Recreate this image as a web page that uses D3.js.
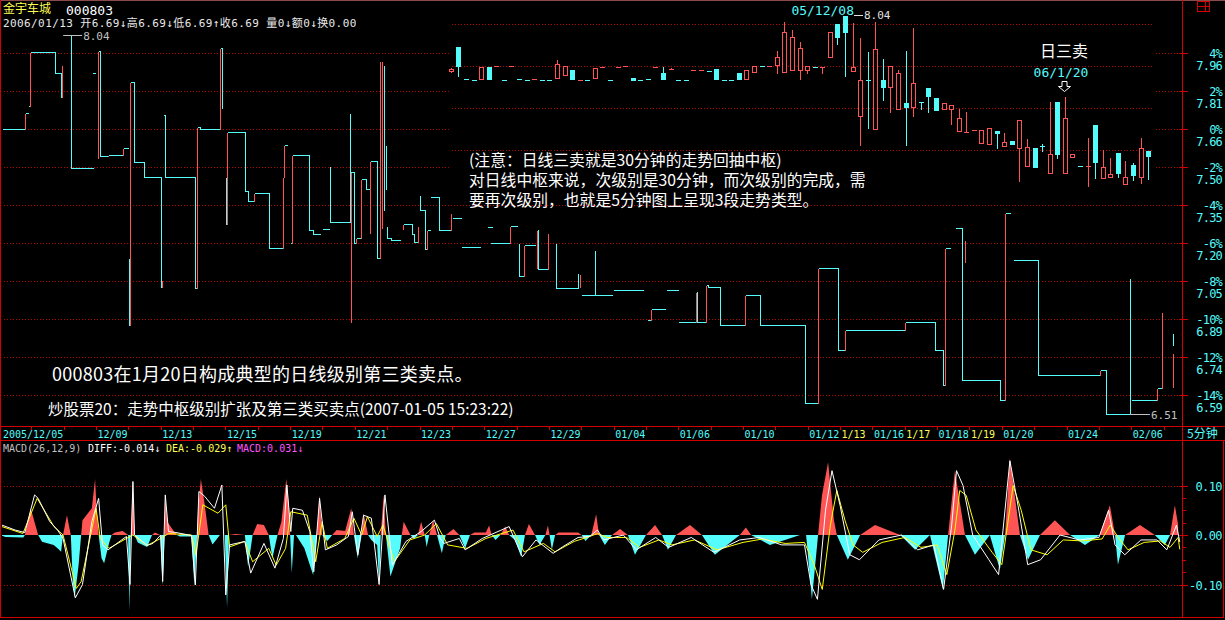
<!DOCTYPE html>
<html><head><meta charset="utf-8">
<script src="https://cdn.jsdelivr.net/npm/d3@7/dist/d3.min.js"></script>
<style>
html,body{margin:0;padding:0;background:#000;overflow:hidden}
svg{display:block}
</style></head><body>
<svg id="chart" width="1225" height="620"></svg>
<script>
// ================= DATA =================
const stockName = "金宇车城";
const stockCode = "000803";
const quoteLine = "2006/01/13 开6.69↓高6.69↓低6.69↑收6.69 量0↓额0↓换0.00";
const basePrice = 7.66;
const pctTicks = [4, 2, 0, -2, -4, -6, -8, -10, -12, -14];
const pctTickLabels = ["4%", "2%", "0%", "-2%", "-4%", "-6%", "-8%", "-10%", "-12%", "-14%"];
const priceTickLabels = ["7.96", "7.81", "7.66", "7.50", "7.35", "7.20", "7.05", "6.89", "6.74", "6.59"];
const dateLabels = ["2005/12/05","12/09","12/13","12/15","12/19","12/21","12/23","12/27","12/29","01/04","01/06","01/10","01/12","1/13","01/16","1/17","01/18","1/19","01/20","01/24","02/06"];
const dateDays   = [0,3,5,7,9,11,13,15,17,19,21,23,25,26,27,28,29,30,31,33,35];
const dateYellow = ["1/13","1/17","1/19"];
const dayCount = 36;

// 5-minute price path (day, price); null = gap
const m5Path = [
 [0.09,7.660],[0.80,7.660],[0.80,7.725],[0.90,7.725], null,
 [0.90,7.753],[0.96,7.753],[0.96,7.970],[1.73,7.970],[1.73,7.886],[1.92,7.886],[1.92,7.789],[1.95,7.789],[1.95,7.918], null,
 [2.23,8.043],[2.23,7.503],[2.91,7.503], null,
 [2.87,7.886],[2.97,7.886], null,
 [3.06,7.543],[3.06,7.975],[3.12,7.975],[3.12,7.551],[3.37,7.551],[3.37,7.555],[3.83,7.555],[3.83,7.583],[3.99,7.583], null,
 [4.02,7.140],[4.02,6.870],[4.05,6.870],[4.05,7.850],[4.17,7.850],[4.17,7.527],[4.48,7.527],[4.48,7.466],[5.01,7.466],[5.01,7.023],[5.04,7.023],[5.04,7.051], null,
 [5.07,7.716],[5.13,7.716],[5.13,7.466],[6.06,7.466],[6.06,7.019],[6.12,7.019],[6.12,7.668],[6.21,7.668],[6.21,7.660],[6.83,7.660],[6.83,7.987],[6.89,7.987],[6.89,7.745], null,
 [7.02,7.466],[7.02,7.277],[7.05,7.277],[7.05,7.648],[7.60,7.648],[7.60,7.410],[7.70,7.410],[7.70,7.370],[7.88,7.370],[7.88,7.402],[8.35,7.402],[8.35,7.180],[8.78,7.180],[8.78,7.466],[8.81,7.466],[8.81,7.595],[8.90,7.595], null,
 [8.99,7.200],[9.06,7.200],[9.06,7.555],[9.58,7.555],[9.58,7.253],[9.71,7.253],[9.71,7.237],[9.92,7.237], null,
 [9.98,7.257],[10.20,7.257], null,
 [10.23,7.511],[10.23,7.285],[10.85,7.285], null,
 [10.85,7.487],[10.97,7.487],[10.97,7.200],[11.04,7.200],[11.04,7.220],[11.19,7.220],[11.19,7.458],[11.34,7.458],[11.34,7.418],[11.44,7.418], null,
 [11.47,7.241],[11.47,7.531],[11.68,7.531],[11.68,7.140],[11.78,7.140],[11.78,7.934], null,
 [11.99,7.269],[11.99,7.220],[12.12,7.220],[12.12,7.212],[12.40,7.212], null,
 [12.49,7.257],[12.49,7.277],[12.77,7.277],[12.77,7.237],[12.83,7.237],[12.83,7.204],[12.95,7.204],[12.95,7.269], null,
 [13.01,7.394],[13.01,7.333],[13.17,7.333],[13.17,7.176],[13.23,7.176],[13.23,7.253],[13.32,7.253], null,
 [13.32,7.386],[13.60,7.386],[13.60,7.253],[13.97,7.253],[13.97,7.321], null,
 [14.00,7.301],[14.28,7.301], null,
 [14.28,7.184],[14.87,7.184], null,
 [15.09,7.265],[15.24,7.265], null,
 [15.18,7.200],[15.80,7.200],[15.80,7.269],[16.01,7.269], null,
 [16.07,7.200],[16.07,7.067],[16.23,7.067],[16.23,7.192],[16.57,7.192], null,
 [16.63,7.100],[16.63,7.253],[16.66,7.253],[16.66,7.095],[16.97,7.095],[16.97,7.241], null,
 [17.22,7.200],[17.22,7.019],[17.90,7.019], null,
 [17.99,6.991],[18.95,6.991], null,
 [18.98,7.011],[19.91,7.011], null,
 [20.03,6.890],[20.15,6.890],[20.15,6.934],[20.59,6.934], null,
 [20.62,7.011],[20.99,7.011], null,
 [20.99,6.882],[21.55,6.882],[21.55,7.003],[21.58,7.003],[21.58,6.882],[21.85,6.882],[21.85,7.031],[21.92,7.031],[21.92,7.023],[22.29,7.023],[22.29,6.870],
 [23.06,6.870],[23.06,6.991],[23.52,6.991],[23.52,6.870],[24.92,6.870],[24.92,6.555],[25.32,6.555],[25.32,7.100],[25.94,7.100],[25.94,6.769],[26.15,6.769],[26.15,6.850],[28.01,6.850],[28.01,6.882],[28.93,6.882],[28.93,6.769],[29.18,6.769],[29.18,6.628],[29.24,6.628],[29.24,7.180],[29.40,7.180], null,
 [29.55,7.261],[29.77,7.261],[29.77,6.648],[30.94,6.648],[30.94,6.567],[31.10,6.567],[31.10,7.321],[31.25,7.321], null,
 [31.34,7.132],[32.12,7.132],[32.12,6.668],[34.03,6.668],[34.03,6.688],[34.22,6.688],[34.22,6.511],[34.93,6.511], null,
 [34.99,6.567],[35.80,6.567],[35.80,6.616],[35.95,6.616],[35.95,6.922], null
];
// single 5-minute bars with a wide range: [day, high, low, up(1)/down(0)]
const m5Spikes = [
 [10.85,7.725,7.285,0],[10.87,7.487,6.882,1],[11.84,7.934,7.261,1],[11.90,7.918,7.333,0],[11.96,7.595,7.418,0],
 [17.90,7.079,7.019,0],[17.96,7.075,7.023,1],[18.42,7.172,6.991,0],[29.86,7.212,7.124,1],[34.96,7.059,6.511,0],[36.29,6.757,6.620,1],[36.30,6.837,6.789,0]
];
const m5High = [2.23, 8.04];
const m5Low  = [34.96, 6.51];

// inset daily candles (Dec 2005 - Jan 2006)
const dOpen  = [7.778,7.892,7.740,7.735,7.740,7.797,7.799,7.735,7.799,7.740, 7.735,7.737,7.735,7.735,7.745,7.759,7.783,7.732,7.735,7.745, 7.794,7.735,7.794,7.799,7.745,7.735,7.740,7.794,7.769,7.785, 7.735,7.735,7.780,7.780,7.778,7.788,7.735,7.735,7.769,7.740, 7.773,7.802,7.799,7.807,7.773,7.783,7.783,7.783,7.797,7.794, 7.845,8.002,8.040,7.778,7.564,7.735,7.502,7.735,7.702,7.597, 7.626,7.607,7.630,7.697,7.650,7.597,7.597,7.492,7.485,7.494, 7.435,7.430,7.492,7.421,7.445,7.411,7.326,7.411,7.421,7.292, 7.630,7.292,7.369,7.326,7.323,7.521,7.269,7.273,7.388,7.240, 7.330,7.273,7.397];
const dClose = [7.788,7.802,7.740,7.735,7.797,7.740,7.802,7.735,7.802,7.740, 7.735,7.740,7.735,7.735,7.811,7.802,7.740,7.735,7.735,7.792, 7.797,7.735,7.797,7.802,7.735,7.735,7.740,7.797,7.740,7.788, 7.735,7.735,7.783,7.783,7.778,7.740,7.735,7.735,7.740,7.783, 7.802,7.802,7.802,7.845,7.964,7.940,7.888,7.802,7.797,7.797, 7.964,7.940,7.964,7.797,7.735,7.731,7.883,7.702,7.802,7.769, 7.607,7.721,7.630,7.659,7.592,7.626,7.616,7.554,7.488,7.497, 7.497,7.507,7.483,7.440,7.430,7.545,7.416,7.321,7.421,7.383, 7.383,7.554,7.383,7.326,7.326,7.345,7.321,7.288,7.292,7.273, 7.283,7.411,7.373];
const dHigh  = [7.792,7.892,7.740,7.735,7.797,7.797,7.802,7.735,7.802,7.740, 7.735,7.740,7.735,7.735,7.831,7.802,7.783,7.735,7.735,7.792, 7.797,7.735,7.797,7.802,7.745,7.735,7.740,7.797,7.797,7.792, 7.735,7.735,7.783,7.783,7.778,7.788,7.735,7.735,7.769,7.783, 7.802,7.802,7.802,7.873,8.011,7.973,7.916,7.802,7.797,7.797, 7.964,8.002,8.040,8.007,7.935,7.869,8.011,7.835,7.802,7.783, 7.873,7.983,7.630,7.697,7.650,7.626,7.616,7.597,7.583,7.497, 7.497,7.507,7.492,7.483,7.445,7.545,7.454,7.411,7.430,7.630, 7.630,7.654,7.383,7.326,7.459,7.521,7.402,7.364,7.388,7.350, 7.340,7.459,7.397];
const dLow   = [7.773,7.754,7.740,7.735,7.740,7.740,7.799,7.735,7.799,7.740, 7.735,7.737,7.735,7.735,7.745,7.759,7.740,7.732,7.735,7.745, 7.794,7.735,7.794,7.799,7.735,7.735,7.740,7.794,7.740,7.783, 7.735,7.735,7.780,7.780,7.778,7.740,7.735,7.735,7.740,7.740, 7.773,7.802,7.799,7.769,7.773,7.783,7.740,7.769,7.797,7.769, 7.845,7.907,7.754,7.778,7.426,7.507,7.502,7.640,7.583,7.597, 7.426,7.564,7.597,7.583,7.592,7.597,7.526,7.492,7.485,7.494, 7.435,7.430,7.411,7.421,7.430,7.254,7.326,7.321,7.397,7.292, 7.364,7.292,7.369,7.326,7.230,7.269,7.269,7.273,7.273,7.240, 7.259,7.245,7.264];
const dailyGrid = [8.00, 7.80, 7.60, 7.40];
const dailyHighIdx = 52, dailyHighDate = "05/12/08", dailyHighLabel = "8.04";
const sellIdx = 81, sellDate = "06/1/20", sellTitle = "日三卖";

// MACD(26,12,9)
const macdHist = [
 [0.03,0],[0.2,-0.004],[0.75,-0.005],[0.80,0],[0.98,0.054],[1.21,0],[1.33,-0.0135],[1.69,-0.02],[1.81,-0.027],[1.92,-0.034],
 [1.98,0],[2.10,0.040],[2.22,0],[2.28,-0.094],[2.34,-0.127],[2.46,-0.061],[2.54,0],[2.58,0.03],[2.87,0.054],[2.97,0.113],
 [3.01,0.061],[3.08,0],[3.17,-0.047],[3.25,-0.057],[3.40,-0.017],[3.48,0],[3.58,0.005],[3.82,0.008],[3.99,0],[4.03,-0.153],
 [4.07,0],[4.14,0.109],[4.19,0],[4.29,-0.015],[4.58,-0.024],[4.73,0],[4.82,0.005],[4.98,0],[5.06,-0.103],[5.12,0],
 [5.14,0.082],[5.20,0.027],[5.41,0.007],[5.50,0],[5.59,-0.003],[5.95,-0.003],[6.04,-0.104],[6.12,0],[6.16,0.054],[6.24,0.113],
 [6.36,0.061],[6.48,0],[6.60,-0.019],[6.83,0],[6.98,0],[7.05,-0.147],[7.11,0],[7.31,0.002],[7.60,0],[7.70,-0.064],
 [7.84,0],[7.98,0.022],[8.19,0.02],[8.34,0],[8.45,-0.047],[8.61,0],[8.73,0.027],[8.88,0.113],[8.96,0.061],[9.00,0],
 [9.05,-0.077],[9.12,0],[9.18,0],[9.44,-0.027],[9.71,-0.081],[9.83,0],[9.91,0.081],[9.99,0],[10.15,-0.012],[10.30,0],
 [10.44,0.010],[10.70,0.008],[10.89,0.054],[10.97,0],[11.09,-0.047],[11.21,0],[11.27,0.044],[11.41,0],[11.51,-0.01],[11.69,-0.02],
 [11.75,-0.101],[11.80,0],[11.89,0.081],[11.96,0],[12.10,-0.084],[12.40,-0.027],[12.45,0],[12.51,0.027],[12.72,0],[12.83,-0.008],
 [12.95,0],[13.05,0.027],[13.16,0],[13.22,-0.024],[13.30,0],[13.42,0.03],[13.54,0],[13.69,-0.037],[13.81,0],[14.05,0.012],
 [14.23,0],[14.41,-0.027],[14.56,0],[14.70,0.005],[15.05,0.005],[15.15,0.019],[15.23,0],[15.35,-0.01],[15.50,0],[15.65,0.017],
 [15.77,0],[15.95,-0.01],[16.14,-0.044],[16.26,0],[16.38,0.022],[16.57,0],[16.71,-0.02],[16.89,0],[16.97,0.019],[17.02,0],
 [17.09,-0.03],[17.19,0],[17.30,0.005],[17.90,0.005],[18.01,0],[18.13,-0.012],[18.31,0],[18.46,0.042],[18.55,0],
 [18.73,-0.02],[18.95,0],[19.2,0.012],[19.44,0],[19.66,-0.04],[20.0,0],[20.28,0.02],[20.5,0],[20.68,-0.03],[20.93,0],
 [21.36,0.02],[21.73,0],[22.13,-0.04],[22.9,0],[23.09,0.015],[23.25,0],[23.83,-0.02],[24.76,0],[24.95,0],[25.13,-0.13],
 [25.32,0],[25.44,0.08],[25.63,0.147],[25.81,0.03],[25.90,0],[26.24,-0.05],[26.62,0],[27.08,0.02],[27.86,0],[28.32,-0.03],
 [28.78,0],[29.18,-0.11],[29.34,0],[29.55,0.13],[29.86,0],[30.17,-0.04],[30.63,0],[30.94,-0.07],[31.10,0],[31.25,0.155],
 [31.56,0],[31.81,-0.05],[32.18,0],[32.64,0.03],[33.11,0],[33.57,-0.02],[34.03,0],[34.34,0.06],[34.5,0],[34.59,-0.06],
 [34.81,0],[35.27,0.02],[35.73,0],[36.04,-0.02],[36.2,0],[36.35,0.06],[36.45,0.02]
];
const macdDiff = [
 [0.09,0.020],[0.50,0.010],[0.80,0.005],[1.10,0.081],[1.21,0.074],[1.57,0.027],[1.81,0.01],[1.98,-0.007],[2.36,-0.127],[2.58,-0.10],
 [2.87,0.027],[3.08,0.074],[3.20,-0.02],[3.37,-0.03],[3.94,-0.003],[4.05,-0.10],[4.14,0.108],[4.19,0],[4.58,-0.021],[4.76,-0.017],
 [5.0,0],[5.06,-0.094],[5.14,0.081],[5.24,0.007],[5.47,0.005],[5.95,-0.001],[6.07,-0.101],[6.18,0.088],[6.36,0.078],[6.66,0.054],
 [6.89,0.101],[7.01,-0.121],[7.13,-0.02],[7.6,-0.013],[7.78,-0.077],[8.19,-0.017],[8.53,-0.067],[8.79,-0.007],[8.90,0.101],[9.02,0.007],
 [9.08,0.054],[9.38,0.05],[9.61,0.007],[9.73,-0.074],[9.91,0.074],[10.09,-0.03],[10.44,-0.02],[10.80,-0.003],[10.92,0.047],[11.09,-0.04],
 [11.27,0.04],[11.51,0.034],[11.75,-0.10],[11.93,0.081],[12.16,-0.061],[12.58,-0.013],[13.05,0.007],[13.46,0.03],[13.64,-0.007],[13.75,-0.017],
 [14.23,-0.007],[14.41,-0.03],[14.94,-0.007],[15.77,0.017],[16.18,-0.044],[16.60,-0.01],[17.13,-0.037],[17.42,-0.024],[17.90,-0.005],[18.26,-0.003],
 [18.50,0.01],[18.7,-0.01],[19.3,0.0],[19.7,-0.03],[20.3,-0.005],[20.7,-0.025],[21.4,-0.005],[22.1,-0.035],[22.9,-0.01],[23.5,-0.005],
 [24.2,-0.02],[24.9,-0.02],[25.1,-0.10],[25.3,-0.13],[25.55,0.05],[25.75,0.13],[26.0,0.06],[26.3,-0.04],[26.6,-0.05],[27.2,-0.01],[27.9,0.0],
 [28.4,-0.03],[28.9,-0.02],[29.2,-0.11],[29.45,0.02],[29.6,0.13],[29.8,0.10],[30.1,0.0],[30.6,-0.05],[30.9,-0.08],[31.25,0.15],[31.5,0.06],
 [31.8,-0.06],[32.2,-0.05],[32.8,0.0],[33.4,-0.01],[34.0,-0.005],[34.3,0.05],[34.5,-0.02],[34.8,-0.04],[35.3,-0.01],[35.8,-0.01],
 [36.1,-0.03],[36.4,0.02],[36.5,-0.014]
];
const macdDea = [
 [0.09,0.017],[0.74,0.003],[1.18,0.074],[1.70,0.017],[1.98,0],[2.39,-0.108],[2.54,-0.094],[3.0,0.054],[3.13,-0.007],[3.40,-0.027],
 [3.94,-0.007],[4.14,0],[4.58,-0.021],[5.0,-0.007],[5.24,0.003],[5.95,0],[6.09,-0.04],[6.30,0.061],[6.77,0.044],[7.01,0.061],
 [7.13,-0.024],[7.6,-0.013],[7.84,-0.054],[8.34,-0.027],[8.57,-0.061],[8.86,-0.027],[9.02,0.047],[9.53,0.04],[9.79,-0.054],[9.99,0.027],
 [10.15,-0.027],[10.69,-0.007],[10.97,0.034],[11.21,0],[11.39,0.037],[11.69,-0.003],[11.87,0.02],[12.22,-0.054],[12.70,-0.01],[13.16,0],
 [13.52,0.023],[13.87,-0.02],[14.47,-0.027],[15.05,-0.007],[15.89,0.01],[16.23,-0.034],[16.83,-0.017],[17.19,-0.034],[17.78,-0.013],[18.26,-0.003],
 [18.50,0.003],[18.8,-0.005],[19.4,-0.005],[19.8,-0.025],[20.4,-0.01],[20.8,-0.02],[21.5,-0.01],[22.2,-0.03],[23.0,-0.015],[23.6,-0.008],
 [24.3,-0.017],[24.9,-0.015],[25.2,-0.06],[25.45,-0.11],[25.7,0.02],[25.9,0.09],[26.15,0.03],[26.4,-0.02],[26.7,-0.035],[27.3,-0.015],[28.0,-0.005],
 [28.5,-0.025],[29.0,-0.02],[29.3,-0.08],[29.55,0.01],[29.7,0.09],[29.9,0.08],[30.2,0.01],[30.7,-0.035],[31.0,-0.06],[31.35,0.10],[31.6,0.05],
 [31.9,-0.03],[32.4,-0.04],[32.9,-0.01],[33.5,-0.012],[34.1,-0.008],[34.35,0.02],[34.6,-0.005],[34.9,-0.03],[35.4,-0.015],[35.9,-0.012],
 [36.2,-0.025],[36.45,-0.005],[36.5,-0.029]
];
const macdTicks = [0.10, 0, -0.10];
const macdTickLabels = ["0.10", "0.00", "-0.10"];
const macdMinor = [0.075, 0.05, 0.025, -0.025, -0.05, -0.075];
const macdTitle = "MACD(26,12,9)";
const macdDiffText = "DIFF:-0.014↓", macdDeaText = "DEA:-0.029↑", macdValText = "MACD:0.031↓";
const noteLines = ["(注意：日线三卖就是30分钟的走势回抽中枢)", "对日线中枢来说，次级别是30分钟，而次级别的完成，需", "要再次级别，也就是5分钟图上呈现3段走势类型。"];
const captionBig = "000803在1月20日构成典型的日线级别第三类卖点。";
const captionSmall = "炒股票20：走势中枢级别扩张及第三类买卖点(2007-01-05 15:23:22)";
const periodLabel = "5分钟";

// ================= DRAW =================
const RED = "#ff5454", CYAN = "#54fcfc", FRAME = "#d20000", GRID = "#b80000", YEL = "#ffff54", MAG = "#ff54ff";
const MONO = "'DejaVu Sans Mono','Noto Sans CJK SC',monospace";
const CJK = "'Noto Sans CJK SC','DejaVu Sans',sans-serif";
const P = v => Math.round(v) + 0.5;

const svg = d3.select("#chart");
svg.append("rect").attr("width", 1225).attr("height", 620).attr("fill", "#000");
const defs = svg.append("defs");

const plotR = 1182;
const x = d3.scaleLinear().domain([0, 36.57]).range([-1, plotR]);
const y = d3.scaleLinear().domain([basePrice * 0.86, basePrice * 1.04]).range([395, 53]);
const ym = d3.scaleLinear().domain([-0.1, 0.1]).range([584.5, 485.5]);
const xd = d3.scaleBand().domain(d3.range(dOpen.length)).range([447, 1152]);
const yd = d3.scaleLinear().domain([7.00, 8.04]).range([234.4, 16]);

defs.append("clipPath").attr("id", "mainClip").append("rect").attr("x", 2).attr("y", 2).attr("width", plotR - 2).attr("height", 423);
defs.append("clipPath").attr("id", "macdClip").append("rect").attr("x", 2).attr("y", 441).attr("width", plotR - 2).attr("height", 176);
defs.append("clipPath").attr("id", "posClip").append("rect").attr("x", 2).attr("y", 441).attr("width", plotR - 2).attr("height", ym(0) - 441);
defs.append("clipPath").attr("id", "negClip").append("rect").attr("x", 2).attr("y", ym(0)).attr("width", plotR - 2).attr("height", 617 - ym(0));
defs.append("clipPath").attr("id", "hdrClip").append("rect").attr("x", 0).attr("y", 14).attr("width", 356).attr("height", 16);

// ---- main grid ----
const gMain = svg.append("g").attr("clip-path", "url(#mainClip)");
pctTicks.forEach(p => {
  const yy = P(y(basePrice * (1 + p / 100)));
  gMain.append("line").attr("x1", 4).attr("x2", plotR - 2).attr("y1", yy).attr("y2", yy)
    .attr("stroke", GRID).attr("stroke-dasharray", "1,2");
});

// ---- 5-minute path ----
const gM5 = gMain.append("g").attr("shape-rendering", "crispEdges");
for (let i = 1; i < m5Path.length; i++) {
  const a = m5Path[i - 1], b = m5Path[i];
  if (!a || !b) continue;
  const xa = P(x(a[0])), xb = P(x(b[0])), ya = P(y(a[1])), yb = P(y(b[1]));
  const vertical = a[0] === b[0];
  const col = vertical && b[1] > a[1] ? RED : CYAN;
  gM5.append("line").attr("x1", xa).attr("x2", vertical ? xa : xb).attr("y1", ya).attr("y2", yb).attr("stroke", col);
}
m5Spikes.forEach(s => {
  const xx = P(x(s[0]));
  gM5.append("line").attr("x1", xx).attr("x2", xx).attr("y1", P(y(s[1]))).attr("y2", P(y(s[2])))
    .attr("stroke", s[3] ? RED : CYAN);
});
// high / low markers
{
  const hx = x(m5High[0]), hy = P(y(m5High[1]));
  gMain.append("line").attr("x1", hx - 8).attr("x2", hx + 11).attr("y1", hy).attr("y2", hy).attr("stroke", "#c0c0c0");
  gMain.append("text").attr("x", hx + 12).attr("y", hy + 4).attr("fill", "#c0c0c0")
    .attr("font-family", MONO).attr("font-size", 11).text(m5High[1].toFixed(2));
  const lx = x(m5Low[0]), ly = P(y(m5Low[1]));
  gMain.append("line").attr("x1", lx).attr("x2", lx + 20).attr("y1", ly).attr("y2", ly).attr("stroke", "#c0c0c0");
  gMain.append("text").attr("x", lx + 21).attr("y", ly + 4).attr("fill", "#c0c0c0")
    .attr("font-family", MONO).attr("font-size", 11).text(m5Low[1].toFixed(2));
}

// ---- inset daily chart ----
svg.append("rect").attr("x", 450).attr("y", 2).attr("width", 706).attr("height", 194).attr("fill", "#000");
dailyGrid.forEach(v => {
  const yy = P(yd(v));
  svg.append("line").attr("x1", 452).attr("x2", 1153).attr("y1", yy).attr("y2", yy)
    .attr("stroke", GRID).attr("stroke-dasharray", "1,2");
});
const gD = svg.append("g").attr("shape-rendering", "crispEdges");
dOpen.forEach((o, i) => {
  const c = dClose[i], h = dHigh[i], l = dLow[i];
  const up = c > o;
  const col = up ? RED : CYAN;
  const xc = Math.round(xd(i) + xd.bandwidth() / 2);
  const yo = yd(o), yc = yd(c);
  const top = Math.round(Math.min(yo, yc)), bot = Math.round(Math.max(yo, yc));
  const yh = Math.round(yd(h)), yl = Math.round(yd(l));
  if (yh < top) gD.append("line").attr("x1", xc + 0.5).attr("x2", xc + 0.5).attr("y1", yh).attr("y2", top).attr("stroke", col);
  if (yl > bot) gD.append("line").attr("x1", xc + 0.5).attr("x2", xc + 0.5).attr("y1", bot).attr("y2", yl + 1).attr("stroke", col);
  if (bot - top < 2) {
    gD.append("line").attr("x1", xc - 2).attr("x2", xc + 3).attr("y1", top + 0.5).attr("y2", top + 0.5).attr("stroke", col);
  } else if (up) {
    gD.append("rect").attr("x", xc - 1.5).attr("y", top + 0.5).attr("width", 4).attr("height", bot - top)
      .attr("fill", "#000").attr("stroke", col);
  } else {
    gD.append("rect").attr("x", xc - 2).attr("y", top).attr("width", 5).attr("height", bot - top + 1).attr("fill", col);
  }
});
// daily annotations
{
  const hx = Math.round(xd(dailyHighIdx) + xd.bandwidth() / 2);
  svg.append("text").attr("x", hx + 9).attr("y", 15).attr("text-anchor", "end").attr("fill", CYAN)
    .attr("font-family", MONO).attr("font-size", 13).text(dailyHighDate);
  svg.append("line").attr("x1", hx + 9).attr("x2", hx + 18).attr("y1", 15.5).attr("y2", 15.5).attr("stroke", "#e0e0e0");
  svg.append("text").attr("x", hx + 19).attr("y", 19).attr("fill", "#e0e0e0")
    .attr("font-family", MONO).attr("font-size", 11).text(dailyHighLabel);
  const sx = Math.round(xd(sellIdx) + xd.bandwidth() / 2);
  svg.append("text").attr("x", sx - 1).attr("y", 57).attr("text-anchor", "middle").attr("fill", "#fff")
    .attr("font-family", CJK).attr("font-size", 16).text(sellTitle);
  svg.append("text").attr("x", sx - 4).attr("y", 77).attr("text-anchor", "middle").attr("fill", CYAN)
    .attr("font-family", MONO).attr("font-size", 13).text(sellDate);
  const ax = sx - 0.5;
  svg.append("path").attr("d", `M${ax - 2.5},81.5 L${ax + 2.5},81.5 L${ax + 2.5},86.5 L${ax + 6},86.5 L${ax},91.5 L${ax - 6},86.5 L${ax - 2.5},86.5 Z`)
    .attr("fill", "none").attr("stroke", "#fff");
}
// note text
noteLines.forEach((t, i) => {
  svg.append("text").attr("x", 469).attr("y", 166 + i * 20).attr("fill", "#fff")
    .attr("font-family", CJK).attr("font-size", 15.8).text(t);
});
svg.append("text").attr("x", 52).attr("y", 381).attr("fill", "#fff").attr("font-family", CJK)
  .attr("font-size", 18).attr("letter-spacing", 0.25).text(captionBig);
svg.append("text").attr("x", 48).attr("y", 415).attr("fill", "#fff").attr("font-family", CJK)
  .attr("font-size", 15.5).text(captionSmall);

// ---- header ----
svg.append("text").attr("x", 3).attr("y", 13).attr("fill", YEL).attr("font-family", CJK).attr("font-size", 12).text(stockName);
svg.append("text").attr("x", 66).attr("y", 15).attr("fill", "#fff").attr("font-family", MONO).attr("font-size", 13).text(stockCode);
svg.append("text").attr("x", 3).attr("y", 27).attr("fill", "#e8e8e8").attr("font-family", MONO).attr("font-size", 11)
  .attr("letter-spacing", 0.4).attr("clip-path", "url(#hdrClip)").text(quoteLine);
// top-right icon
svg.append("rect").attr("x", 1197.5).attr("y", 1.5).attr("width", 12).attr("height", 10).attr("fill", "none").attr("stroke", FRAME);
svg.append("line").attr("x1", 1205.5).attr("x2", 1205.5).attr("y1", 1.5).attr("y2", 11.5).attr("stroke", FRAME);
svg.append("line").attr("x1", 1197.5).attr("x2", 1209.5).attr("y1", 6.5).attr("y2", 6.5).attr("stroke", FRAME);

// ---- right price axis ----
pctTicks.forEach((p, i) => {
  const yy = P(y(basePrice * (1 + p / 100)));
  svg.append("line").attr("x1", 1179).attr("x2", 1188).attr("y1", yy).attr("y2", yy).attr("stroke", FRAME);
  svg.append("text").attr("x", 1222).attr("y", yy + 4).attr("text-anchor", "end").attr("fill", CYAN)
    .attr("font-family", MONO).attr("font-size", 12).attr("letter-spacing", -0.8).text(pctTickLabels[i]);
  svg.append("text").attr("x", 1222).attr("y", yy + 16).attr("text-anchor", "end").attr("fill", CYAN)
    .attr("font-family", MONO).attr("font-size", 12).attr("letter-spacing", -0.8).text(priceTickLabels[i]);
});

// ---- date band ----
d3.range(1, dayCount + 1).forEach(k => {
  const xx = P(x(k));
  if (xx < plotR) svg.append("line").attr("x1", xx).attr("x2", xx).attr("y1", 426).attr("y2", 430).attr("stroke", FRAME);
});
dateLabels.forEach((lab, i) => {
  svg.append("text").attr("x", Math.max(3, x(dateDays[i]) + 1.5)).attr("y", 437.5)
    .attr("fill", dateYellow.includes(lab) ? YEL : CYAN).attr("font-family", MONO).attr("font-size", 10).text(lab);
});
svg.append("text").attr("x", 1187).attr("y", 438).attr("fill", CYAN).attr("font-family", CJK).attr("font-size", 12).text(periodLabel);

// ---- MACD ----
macdTicks.forEach(v => {
  if (v === 0) return;
  const yy = P(ym(v));
  svg.append("line").attr("x1", 4).attr("x2", plotR - 2).attr("y1", yy).attr("y2", yy).attr("stroke", GRID).attr("stroke-dasharray", "1,2");
});
const histArea = d3.area().x(d => x(d[0])).y0(ym(0)).y1(d => ym(d[1]));
const gMacd = svg.append("g").attr("clip-path", "url(#macdClip)");
gMacd.append("g").attr("clip-path", "url(#posClip)").append("path").attr("d", histArea(macdHist)).attr("fill", RED);
gMacd.append("g").attr("clip-path", "url(#negClip)").append("path").attr("d", histArea(macdHist)).attr("fill", CYAN);
const ln = d3.line().x(d => x(d[0])).y(d => ym(d[1]));
gMacd.append("path").attr("d", ln(macdDea)).attr("fill", "none").attr("stroke", "#ffff00").attr("stroke-width", 1);
gMacd.append("path").attr("d", ln(macdDiff)).attr("fill", "none").attr("stroke", "#ffffff").attr("stroke-width", 1);

macdTicks.forEach((v, i) => {
  const yy = P(ym(v));
  svg.append("line").attr("x1", 1179).attr("x2", 1188).attr("y1", yy).attr("y2", yy).attr("stroke", FRAME);
  svg.append("text").attr("x", 1222).attr("y", yy + 4).attr("text-anchor", "end").attr("fill", CYAN)
    .attr("font-family", MONO).attr("font-size", 12).attr("letter-spacing", -0.6).text(macdTickLabels[i]);
});
macdMinor.forEach(v => {
  const yy = P(ym(v));
  svg.append("line").attr("x1", 1182).attr("x2", 1186).attr("y1", yy).attr("y2", yy).attr("stroke", FRAME);
});
svg.append("text").attr("x", 3).attr("y", 452).attr("fill", "#c0c0c0").attr("font-family", MONO).attr("font-size", 10).text(macdTitle);
svg.append("text").attr("x", 88).attr("y", 452).attr("fill", "#fff").attr("font-family", MONO).attr("font-size", 10).text(macdDiffText);
svg.append("text").attr("x", 166).attr("y", 452).attr("fill", YEL).attr("font-family", MONO).attr("font-size", 10).text(macdDeaText);
svg.append("text").attr("x", 237).attr("y", 452).attr("fill", MAG).attr("font-family", MONO).attr("font-size", 10).text(macdValText);

// ---- frames ----
const fr = svg.append("g").attr("stroke", FRAME).attr("shape-rendering", "crispEdges");
fr.append("line").attr("x1", 0).attr("x2", 1225).attr("y1", 0.5).attr("y2", 0.5).attr("stroke", "#8a4a4a");
fr.append("line").attr("x1", 0.5).attr("x2", 0.5).attr("y1", 0).attr("y2", 618);
fr.append("line").attr("x1", plotR + 0.5).attr("x2", plotR + 0.5).attr("y1", 0).attr("y2", 618);
fr.append("line").attr("x1", 0).attr("x2", 1225).attr("y1", 426.5).attr("y2", 426.5);
fr.append("line").attr("x1", 0).attr("x2", 1225).attr("y1", 440.5).attr("y2", 440.5);
fr.append("line").attr("x1", 0).attr("x2", 1224).attr("y1", 617.5).attr("y2", 617.5);
fr.append("line").attr("x1", 1223.5).attr("x2", 1223.5).attr("y1", 440).attr("y2", 618);
</script>
</body></html>
